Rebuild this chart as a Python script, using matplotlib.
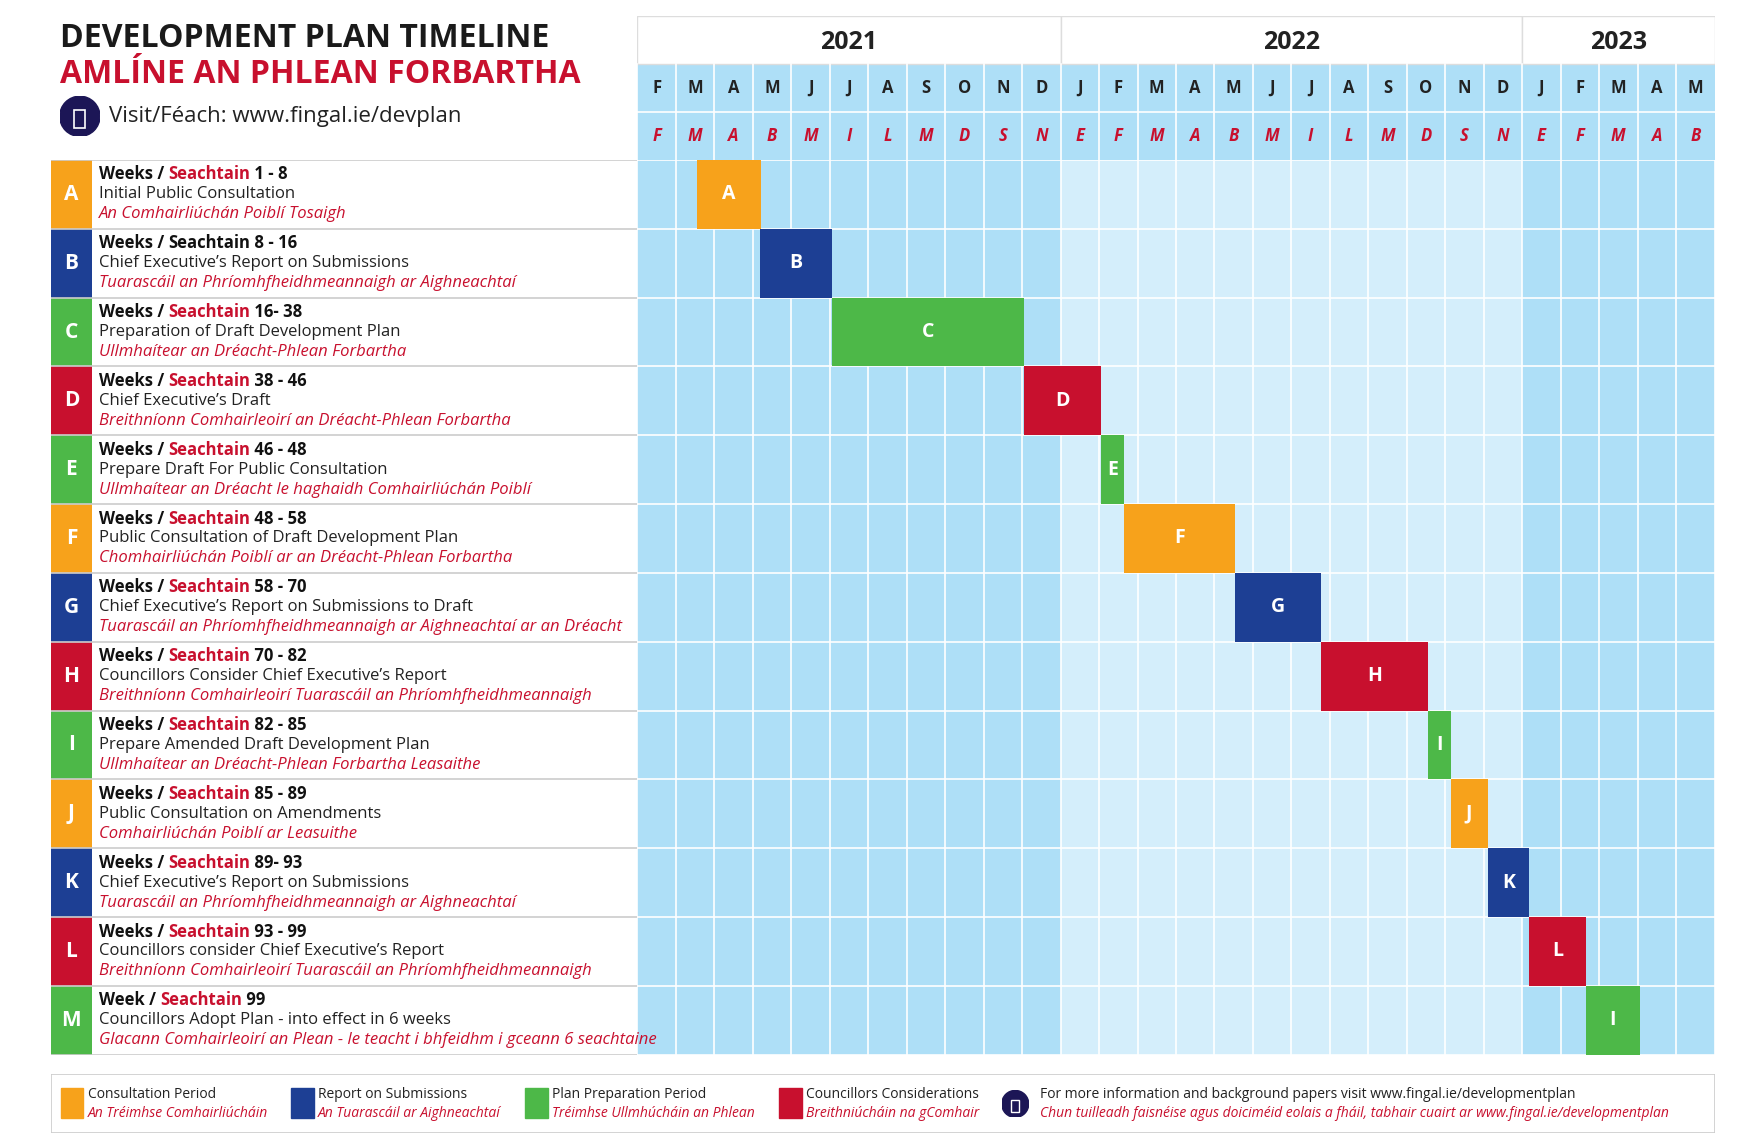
import matplotlib.pyplot as plt
from matplotlib.patches import Rectangle

plt.rcParams['font.family'] = ['Open Sans', 'DejaVu Sans']

# ── Data ──────────────────────────────────────────────────────────────────────
months_en = list("FMAMJJASONDJFMAMJJASONDJFMAM")
months_ga = list("FMABMILMDSNEFMABMILMDSNEFMAB")
years = ["2021", "2022", "2023"]
year_span = [(0, 11), (11, 23), (23, 28)]

letters = list("ABCDEFGHIJKLM")
weeks = ["1 - 8", "8 - 16", "16- 38", "38 - 46", "46 - 48", "48 - 58", "58 - 70",
         "70 - 82", "82 - 85", "85 - 89", "89- 93", "93 - 99", "99"]
titles_en = ["Initial Public Consultation",
             "Chief Executive’s Report on Submissions",
             "Preparation of Draft Development Plan",
             "Chief Executive’s Draft",
             "Prepare Draft For Public Consultation",
             "Public Consultation of Draft Development Plan",
             "Chief Executive’s Report on Submissions to Draft",
             "Councillors Consider Chief Executive’s Report",
             "Prepare Amended Draft Development Plan",
             "Public Consultation on Amendments",
             "Chief Executive’s Report on Submissions",
             "Councillors consider Chief Executive’s Report",
             "Councillors Adopt Plan - into effect in 6 weeks"]
titles_ga = ["An Comhairliúchán Poiblí Tosaigh",
             "Tuarascáil an Phríomhfheidhmeannaigh ar Aighneachtaí",
             "Ullmhaítear an Dréacht-Phlean Forbartha",
             "Breithníonn Comhairleoirí an Dréacht-Phlean Forbartha",
             "Ullmhaítear an Dréacht le haghaidh Comhairliúchán Poiblí",
             "Chomhairliúchán Poiblí ar an Dréacht-Phlean Forbartha",
             "Tuarascáil an Phríomhfheidhmeannaigh ar Aighneachtaí ar an Dréacht",
             "Breithníonn Comhairleoirí Tuarascáil an Phríomhfheidhmeannaigh",
             "Ullmhaítear an Dréacht-Phlean Forbartha Leasaithe",
             "Comhairliúchán Poiblí ar Leasuithe",
             "Tuarascáil an Phríomhfheidhmeannaigh ar Aighneachtaí",
             "Breithníonn Comhairleoirí Tuarascáil an Phríomhfheidhmeannaigh",
             "Glacann Comhairleoirí an Plean - le teacht i bhfeidhm i gceann 6 seachtaine"]
# bar start / end in month columns (0 = Feb 2021)
bar_start = [1.55, 3.19, 5.06, 10.06, 12.05, 12.66, 15.53, 17.78, 20.56, 21.14, 22.10, 23.19, 24.65]
bar_end   = [3.20, 5.06, 10.06, 12.05, 12.66, 15.53, 17.78, 20.56, 21.14, 22.10, 23.19, 24.65, 26.05]
bar_label = list("ABCDEFGHIJKLI")
kind = ["c", "r", "p", "k", "p", "c", "r", "k", "p", "c", "r", "k", "p"]

# ── Style ─────────────────────────────────────────────────────────────────────
COL = {"c": "#f7a21b", "r": "#1d3f94", "p": "#4db848", "k": "#c8102e"}
RED = "#c8102e"
DARK = "#aedff7"
LIGHT = "#d4eefb"
LINE = "#ffffff"
W, H = 1553, 1013

def fx(x): return x / W
def fy(y): return 1 - y / H

fig = plt.figure(figsize=(17.46, 11.33), dpi=100)

# ── Grid ──────────────────────────────────────────────────────────────────────
gx0, gx1, gy0, gy1 = 567, 1525, 143, 943
ax = fig.add_axes([fx(gx0), fy(gy1), fx(gx1 - gx0), fy(gy0) - fy(gy1)])
n_m, n_r = len(months_en), len(letters)
for j in range(n_m):
    c = LIGHT if 11 <= j < 23 else DARK
    ax.add_patch(Rectangle((j, 0), 1, n_r, color=c, lw=0))
for j in range(n_m + 1):
    ax.axvline(j, color=LINE, lw=1.2)
for i in range(n_r + 1):
    ax.axhline(i, color=LINE, lw=1.2)
rows = list(range(n_r))
ax.barh([r + 0.5 for r in rows], [e - s for s, e in zip(bar_start, bar_end)], left=bar_start,
        height=1, color=[COL[k] for k in kind], zorder=3)
for r, s, e, lab in zip(rows, bar_start, bar_end, bar_label):
    ax.text((s + e) / 2, r + 0.5, lab, color="white", fontsize=14, fontweight="bold",
            ha="center", va="center", zorder=4)
ax.set_xlim(0, n_m)
ax.set_ylim(n_r, 0)
ax.axis("off")

# ── Header ────────────────────────────────────────────────────────────────────
hy0 = 14
hx = fig.add_axes([fx(gx0), fy(gy0), fx(gx1 - gx0), fy(hy0) - fy(gy0)])
hx.add_patch(Rectangle((0, 1), n_m, 2, color=DARK, lw=0))
for j in range(n_m):
    hx.text(j + 0.5, 1.5, months_en[j], ha="center", va="center", fontsize=12,
            fontweight="bold", color="#222222")
    hx.text(j + 0.5, 2.5, months_ga[j], ha="center", va="center", fontsize=12,
            fontweight="bold", style="italic", color=RED)
    hx.plot([j, j], [1, 3], color=LINE, lw=1.2)
hx.plot([0, n_m], [2, 2], color=LINE, lw=1.2)
for yr, (a, b) in zip(years, year_span):
    hx.add_patch(Rectangle((a, 0), b - a, 1, fc="white", ec="#dddddd", lw=1))
    hx.text((a + b) / 2, 0.55, yr, ha="center", va="center", fontsize=18,
            fontweight="bold", color="#222222")
hx.set_xlim(0, n_m)
hx.set_ylim(3, 0)
hx.axis("off")

# ── Left labels ───────────────────────────────────────────────────────────────
lx0 = 45
lx = fig.add_axes([fx(lx0), fy(gy1), fx(gx0 - lx0), fy(gy0) - fy(gy1)])
lx.set_xlim(lx0, gx0)
lx.set_ylim(n_r, 0)
lx.axis("off")
lx.barh([r + 0.5 for r in rows], 37, left=lx0, height=1, color=[COL[k] for k in kind])
for r in range(n_r + 1):
    lx.plot([lx0, gx0], [r, r], color="#cccccc", lw=1.2)
for r in rows:
    lx.text(lx0 + 18.5, r + 0.5, letters[r], ha="center", va="center", color="white",
            fontsize=15, fontweight="bold")
    wk = "Week / " if r == n_r - 1 else "Weeks / "
    t1 = lx.text(88, r + 0.21, wk, fontsize=12, fontweight="bold", color="#111111", va="center")
    sc = "#111111" if r == 1 else RED
    t2 = lx.annotate("Seachtain", xy=(1, 0), xycoords=t1, fontsize=12, fontweight="bold",
                     color=sc, va="bottom")
    lx.annotate(" " + weeks[r], xy=(1, 0), xycoords=t2, fontsize=12, fontweight="bold",
                color="#111111", va="bottom")
    lx.text(88, r + 0.5, titles_en[r], fontsize=12, color="#222222", va="center")
    lx.text(88, r + 0.79, titles_ga[r], fontsize=12, style="italic", color=RED, va="center")

# ── Titles ────────────────────────────────────────────────────────────────────
fig.text(fx(53), fy(34), "DEVELOPMENT PLAN TIMELINE", fontsize=23, fontweight="bold",
         color="#1a1a1a", va="center")
fig.text(fx(53), fy(67), "AMLÍNE AN PHLEAN FORBARTHA", fontsize=23, fontweight="bold",
         color=RED, va="center")
fig.text(fx(97), fy(104), "Visit/Féach: www.fingal.ie/devplan", fontsize=16, color="#222222",
         va="center")

ic = fig.add_axes([fx(53), fy(122), fx(36), fy(86) - fy(122)])
ic.add_patch(plt.Circle((0.5, 0.5), 0.5, color="#1c1656"))
ic.add_patch(Rectangle((0.36, 0.2), 0.28, 0.45, fc="none", ec="white", lw=1.2))
ic.set_xlim(0, 1); ic.set_ylim(0, 1); ic.set_aspect("equal"); ic.axis("off")

# ── Legend ────────────────────────────────────────────────────────────────────
lg = fig.add_axes([fx(45), fy(1013), fx(1480), fy(960) - fy(1013)])
lg.set_xlim(45, 1525); lg.set_ylim(1013, 960)
lg.add_patch(Rectangle((45, 960), 1480, 53, fc="white", ec="#cccccc", lw=1.2))
lg.axis("off")
leg_x = [54, 259, 467, 693]
leg_en = ["Consultation Period", "Report on Submissions", "Plan Preparation Period",
          "Councillors Considerations"]
leg_ga = ["An Tréimhse Comhairliúcháin", "An Tuarascáil ar Aighneachtaí",
          "Tréimhse Ullmhúcháin an Phlean", "Breithniúcháin na gComhair"]
for x, k, en, ga in zip(leg_x, ["c", "r", "p", "k"], leg_en, leg_ga):
    lg.add_patch(Rectangle((x, 973), 20, 27, color=COL[k]))
    lg.text(x + 24, 979, en, fontsize=10, color="#222222", va="center")
    lg.text(x + 24, 996, ga, fontsize=10, style="italic", color=RED, va="center")
ic2 = fig.add_axes([fx(891), fy(1001), fx(24), fy(973) - fy(1001)])
ic2.add_patch(plt.Circle((0.5, 0.5), 0.5, color="#1c1656"))
ic2.add_patch(Rectangle((0.36, 0.2), 0.28, 0.45, fc="none", ec="white", lw=1))
ic2.set_xlim(0, 1); ic2.set_ylim(0, 1); ic2.set_aspect("equal"); ic2.axis("off")
lg.text(925, 979, "For more information and background papers visit www.fingal.ie/developmentplan",
        fontsize=10, color="#222222", va="center")
lg.text(925, 996, "Chun tuilleadh faisnéise agus doiciméid eolais a fháil, tabhair cuairt ar "
        "www.fingal.ie/developmentplan", fontsize=10, style="italic", color=RED, va="center")

fig.savefig("out.png", dpi=100, facecolor="white")
